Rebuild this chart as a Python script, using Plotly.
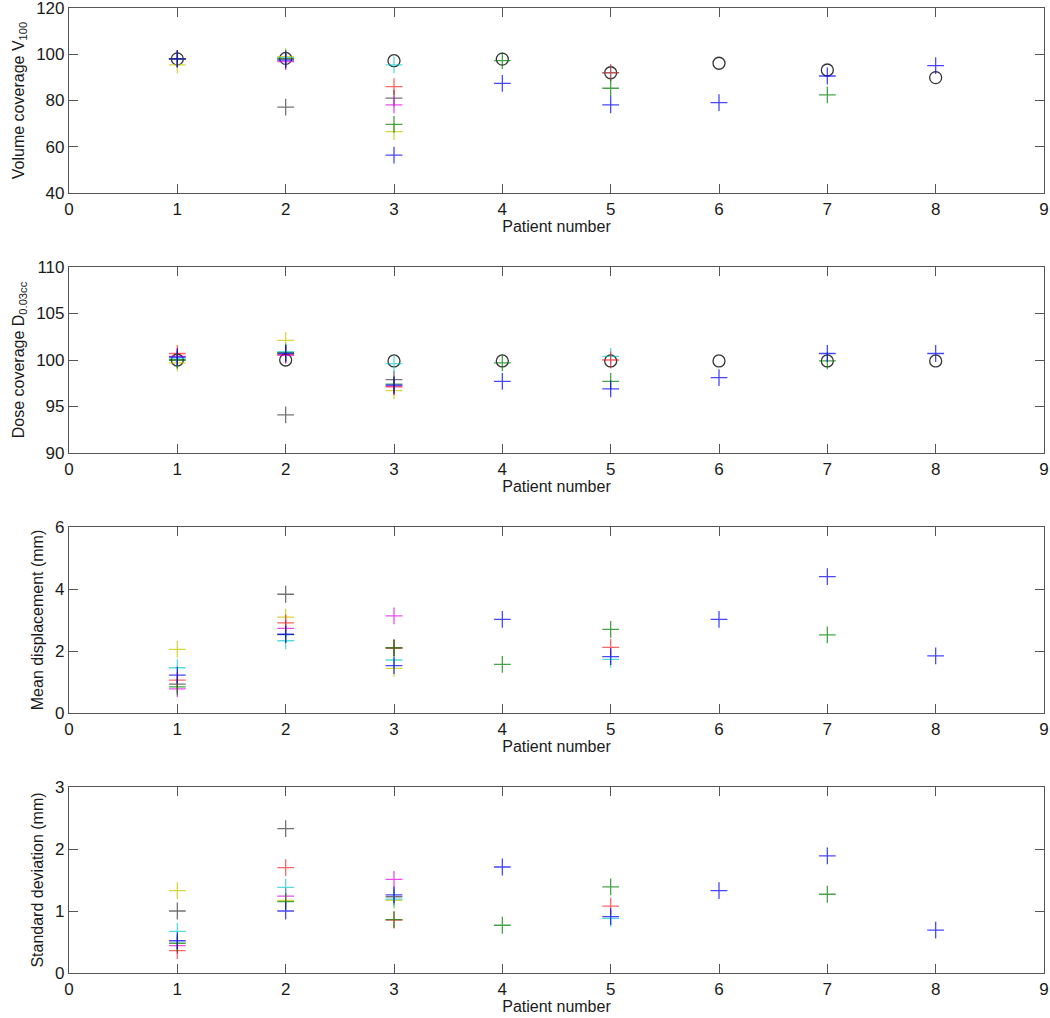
import plotly.graph_objects as go

patients = [1, 2, 3, 4, 5, 6, 7, 8]
N = None

# Reference (black open circles), panels 1 and 2
v100_ref = [98.0, 98.2, 97.2, 97.9, 92.0, 96.1, 93.2, 89.9]
d003_ref = [100.0, 100.0, 99.9, 99.9, 99.9, 99.9, 99.9, 99.9]

# Volume coverage V100
v100_b = [98.0, 97.5, 56.4, 87.4, 78.1, 79.1, 90.6, 95.1]
v100_g = [98.0, 98.0, 69.7, 97.2, 85.3, N, 82.4, N]
v100_r = [98.0, 98.0, 86.0, N, 92.0, N, N, N]
v100_c = [98.0, 98.5, 95.4, N, 92.0, N, N, N]
v100_m = [98.0, 96.8, 78.1, N, N, N, N, N]
v100_y = [95.4, 99.0, 66.5, N, N, N, N, N]
v100_k = [98.0, 77.1, 81.0, N, N, N, N, N]

# Dose coverage D0.03cc
d003_b = [100.3, 100.7, 97.3, 97.7, 96.9, 98.1, 100.7, 100.7]
d003_g = [100.0, 100.8, 97.4, 99.7, 97.7, N, 99.9, N]
d003_r = [100.7, 100.6, 97.1, N, 100.0, N, N, N]
d003_c = [100.2, 100.9, 99.6, N, 100.4, N, N, N]
d003_m = [100.4, 100.5, 97.2, N, N, N, N, N]
d003_y = [99.7, 102.1, 96.7, N, N, N, N, N]
d003_k = [100.0, 94.1, 97.9, N, N, N, N, N]

# Mean displacement (mm)
mean_b = [1.22, 2.54, 1.53, 3.02, 1.82, 3.02, 4.40, 1.84]
mean_g = [0.84, 2.53, 2.10, 1.57, 2.70, N, 2.52, N]
mean_r = [1.06, 2.91, 2.09, N, 2.12, N, N, N]
mean_c = [1.46, 2.33, 1.71, N, 1.73, N, N, N]
mean_m = [0.78, 2.73, 3.13, N, N, N, N, N]
mean_y = [2.05, 3.09, 1.44, N, N, N, N, N]
mean_k = [0.93, 3.83, 2.10, N, N, N, N, N]

# Standard deviation (mm)
sd_b = [0.52, 1.00, 1.26, 1.71, 0.91, 1.33, 1.89, 0.69]
sd_g = [0.48, 1.15, 0.86, 0.77, 1.39, N, 1.27, N]
sd_r = [0.36, 1.70, 0.855, N, 1.08, N, N, N]
sd_c = [0.67, 1.38, 1.19, N, 0.88, N, N, N]
sd_m = [0.44, 1.24, 1.51, N, N, N, N, N]
sd_y = [1.33, 1.17, 1.17, N, N, N, N, N]
sd_k = [1.00, 2.33, 1.23, N, N, N, N, N]

x_ticks = [0, 1, 2, 3, 4, 5, 6, 7, 8, 9]
y_ticks = [[40, 60, 80, 100, 120], [90, 95, 100, 105, 110], [0, 2, 4, 6], [0, 1, 2, 3]]

colors = {
    "b": "rgba(0,0,255,0.72)",
    "g": "rgba(0,128,0,0.72)",
    "r": "rgba(255,0,0,0.6)",
    "c": "rgba(0,200,200,0.65)",
    "m": "rgba(230,0,230,0.7)",
    "y": "rgba(200,200,0,0.75)",
    "k": "rgba(0,0,0,0.55)",
}

panels = [
    ({"k": v100_k, "y": v100_y, "m": v100_m, "c": v100_c, "r": v100_r, "g": v100_g, "b": v100_b}, v100_ref),
    ({"k": d003_k, "y": d003_y, "m": d003_m, "c": d003_c, "r": d003_r, "g": d003_g, "b": d003_b}, d003_ref),
    ({"k": mean_k, "y": mean_y, "m": mean_m, "c": mean_c, "r": mean_r, "g": mean_g, "b": mean_b}, None),
    ({"k": sd_k, "y": sd_y, "m": sd_m, "c": sd_c, "r": sd_r, "g": sd_g, "b": sd_b}, None),
]

y_titles = [
    "Volume coverage V<sub>100</sub>",
    "Dose coverage D<sub>0.03cc</sub>",
    "Mean displacement (mm)",
    "Standard deviation (mm)",
]
y_ranges = [[40, 120], [90, 110], [0, 6], [0, 3]]

H = 1018
m_t, m_b = 8, 45
area = H - m_t - m_b
bounds = [(8, 193), (267, 453), (527, 713), (787, 973)]

fig = go.Figure()
for i, (series, ref) in enumerate(panels):
    xa = "x" if i == 0 else f"x{i+1}"
    ya = "y" if i == 0 else f"y{i+1}"
    if ref is not None:
        fig.add_trace(go.Scatter(
            x=patients, y=ref, mode="markers", xaxis=xa, yaxis=ya,
            marker=dict(symbol="circle-open", size=12, color="rgba(30,30,30,0.9)",
                        line=dict(width=1.3, color="rgba(30,30,30,0.9)")),
            hoverinfo="skip"))
    for key, vals in series.items():
        fig.add_trace(go.Scatter(
            x=patients, y=vals, mode="markers", xaxis=xa, yaxis=ya,
            marker=dict(symbol="cross-thin", size=12, color=colors[key],
                        line=dict(width=1.3, color=colors[key])),
            hoverinfo="skip"))

font_family = "Liberation Sans, Arial, sans-serif"
axis_common = dict(
    showline=True, linecolor="#555", linewidth=1.2, mirror="ticks",
    ticks="inside", ticklen=9, tickcolor="#555", tickwidth=1.2,
    showgrid=False, zeroline=False, automargin=False,
    ticklabeloverflow="allow",
    tickfont=dict(family=font_family, size=17, color="#1a1a1a"),
)

layout = dict(
    template="none",
    width=1050, height=H,
    margin=dict(l=69, r=6, t=m_t, b=m_b),
    paper_bgcolor="white", plot_bgcolor="white",
    showlegend=False,
    font=dict(family=font_family, size=16, color="#1a1a1a"),
)
for i in range(4):
    top, bot = bounds[i]
    dom = [(H - m_b - bot) / area, (H - m_b - top) / area]
    xk = "xaxis" if i == 0 else f"xaxis{i+1}"
    yk = "yaxis" if i == 0 else f"yaxis{i+1}"
    anchor_y = "y" if i == 0 else f"y{i+1}"
    anchor_x = "x" if i == 0 else f"x{i+1}"
    layout[xk] = dict(axis_common, range=[0, 9], tickmode="array", tickvals=x_ticks,
                      anchor=anchor_y, domain=[0, 1],
                      title=dict(text="Patient number", standoff=2,
                                 font=dict(family=font_family, size=16, color="#1a1a1a")))
    layout[yk] = dict(axis_common, range=y_ranges[i], tickmode="array", tickvals=y_ticks[i],
                      anchor=anchor_x, domain=dom,
                      title=dict(text=y_titles[i], standoff=7,
                                 font=dict(family=font_family, size=16, color="#1a1a1a")))

fig.update_layout(**layout)
fig.write_html(
    "out.html",
    config={"displayModeBar": False},
    post_script="document.body.style.margin='0px';document.body.style.padding='0px';document.body.style.overflow='hidden';",
)
